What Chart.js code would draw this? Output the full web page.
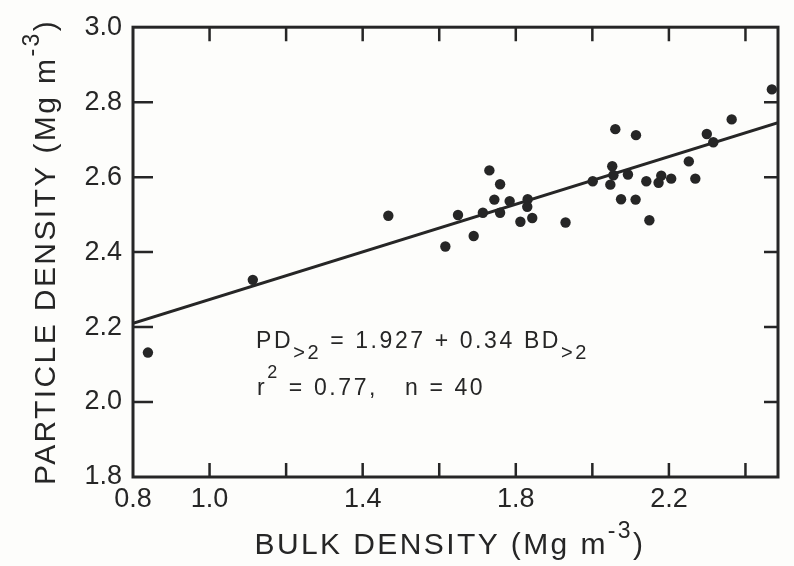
<!DOCTYPE html>
<html>
<head>
<meta charset="utf-8">
<title>Particle density vs bulk density</title>
<script src="https://cdn.jsdelivr.net/npm/chart.js@4.4.1/dist/chart.umd.min.js"></script>
<style>
  html, body { margin: 0; padding: 0; background: #fdfdfb; }
  #wrap { width: 794px; height: 566px; }
</style>
</head>
<body>
<div id="wrap"><canvas id="densityChart" width="794" height="566"></canvas></div>
<script>
// values (Mg m-3)
const bulkDensity = [0.839, 1.113, 1.467, 1.731, 1.759, 1.744, 1.784, 1.831, 1.830, 1.649,
    1.714, 1.759, 1.812, 1.843, 1.930, 1.690, 1.616, 2.001, 2.060, 2.114,
    2.052, 2.055, 2.047, 2.093, 2.141, 2.180, 2.173, 2.206, 2.252, 2.269,
    2.299, 2.316, 2.364, 2.075, 2.113, 2.149, 2.469];
const particleDensity = [2.132, 2.326, 2.497, 2.618, 2.581, 2.540, 2.536, 2.541, 2.521, 2.499,
    2.505, 2.505, 2.481, 2.491, 2.479, 2.443, 2.415, 2.589, 2.728, 2.712,
    2.629, 2.605, 2.580, 2.607, 2.589, 2.604, 2.585, 2.596, 2.642, 2.596,
    2.715, 2.693, 2.754, 2.541, 2.540, 2.485, 2.834];

// regression line as drawn
const fitLineX = [0.8, 2.485];
const fitLineY = [2.21, 2.745];

// axes
const xTickLabels = [0.8, 1.0, 1.4, 1.8, 2.2];
const xTickMarks = [1.0, 1.2, 1.4, 1.6, 1.8, 2.0, 2.2, 2.4];
const yTickLabels = [1.8, 2.0, 2.2, 2.4, 2.6, 2.8, 3.0];
const yTickMarks = [2.0, 2.2, 2.4, 2.6, 2.8];

const ink = '#262626';
const fontFamily = '"Liberation Sans", Arial, sans-serif';

// draw a run of text pieces, each [text, size, dy]
function drawParts(ctx, parts, x, y, measureOnly) {
    let cx = x;
    parts.forEach(p => {
        ctx.font = p[1] + 'px ' + fontFamily;
        if (!measureOnly) ctx.fillText(p[0], cx, y + p[2]);
        cx += ctx.measureText(p[0]).width;
    });
    return cx - x;
}

const framePlugin = {
    id: 'frame',
    afterDraw(chart) {
        const ctx = chart.ctx;
        const a = chart.chartArea;
        const xs = chart.scales.x, ys = chart.scales.y;
        ctx.save();
        ctx.strokeStyle = ink;
        ctx.fillStyle = ink;

        // box
        ctx.lineWidth = 3;
        ctx.strokeRect(a.left, a.top, a.right - a.left, a.bottom - a.top);

        // inner tick marks
        ctx.lineWidth = 2.5;
        ctx.beginPath();
        xTickMarks.forEach(v => {
            const px = xs.getPixelForValue(v);
            ctx.moveTo(px, a.bottom); ctx.lineTo(px, a.bottom - 14);
            ctx.moveTo(px, a.top); ctx.lineTo(px, a.top + 14);
        });
        yTickMarks.forEach(v => {
            const py = ys.getPixelForValue(v);
            ctx.moveTo(a.left, py); ctx.lineTo(a.left + 20, py);
            ctx.moveTo(a.right, py); ctx.lineTo(a.right - 14, py);
        });
        ctx.stroke();

        ctx.textAlign = 'left';
        ctx.textBaseline = 'alphabetic';

        // axis titles
        ctx.letterSpacing = '2.4px';
        const xTitle = [['BULK DENSITY (Mg m', 30, 0], ['-3', 23, -16], [')', 30, 0]];
        const wx = drawParts(ctx, xTitle, 0, 0, true);
        drawParts(ctx, xTitle, 450 - wx / 2, 554);

        const yTitle = [['PARTICLE DENSITY (Mg m', 30, 0], ['-3', 23, -16], [')', 30, 0]];
        const wy = drawParts(ctx, yTitle, 0, 0, true);
        ctx.save();
        ctx.translate(55, 252);
        ctx.rotate(-Math.PI / 2);
        drawParts(ctx, yTitle, -wy / 2, 0);
        ctx.restore();

        // equation
        ctx.letterSpacing = '2.6px';
        ctx.wordSpacing = '5px';
        drawParts(ctx, [['PD', 23, 0], ['>2', 20, 11], [' = 1.927 + 0.34 BD', 23, 0], ['>2', 20, 11]], 256, 348);
        drawParts(ctx, [['r', 23, 0], ['2', 18, -17], [' = 0.77,   n = 40', 23, 0]], 257, 395);
        ctx.restore();
    }
};

const points = bulkDensity.map((x, i) => ({ x: x, y: particleDensity[i] }));
const fitLine = fitLineX.map((x, i) => ({ x: x, y: fitLineY[i] }));

const ctx = document.getElementById('densityChart').getContext('2d');
new Chart(ctx, {
    type: 'scatter',
    data: {
        datasets: [{
            data: points,
            pointRadius: 5.2,
            pointBackgroundColor: ink,
            pointBorderWidth: 0,
            order: 0
        }, {
            type: 'line',
            data: fitLine,
            borderColor: ink,
            borderWidth: 3,
            pointRadius: 0,
            fill: false,
            order: 1
        }]
    },
    options: {
        responsive: false,
        animation: false,
        layout: { padding: { top: 24, right: 16, left: 0, bottom: 0 } },
        plugins: { legend: { display: false }, tooltip: { enabled: false } },
        scales: {
            x: {
                type: 'linear',
                min: 0.8,
                max: 2.485,
                afterBuildTicks: s => { s.ticks = xTickLabels.map(v => ({ value: v })); },
                afterFit: s => { s.height = 89; },
                grid: { display: false, drawTicks: false },
                border: { display: false },
                ticks: {
                    padding: 6,
                    color: ink,
                    font: { family: 'Liberation Sans', size: 27 },
                    maxRotation: 0,
                    autoSkip: false,
                    callback: v => v.toFixed(1)
                }
            },
            y: {
                type: 'linear',
                min: 1.8,
                max: 3.0,
                afterBuildTicks: s => { s.ticks = yTickLabels.map(v => ({ value: v })); },
                afterFit: s => { s.width = 133; },
                grid: { display: false, drawTicks: false },
                border: { display: false },
                ticks: {
                    padding: 11,
                    color: ink,
                    font: { family: 'Liberation Sans', size: 27 },
                    autoSkip: false,
                    callback: v => v.toFixed(1)
                }
            }
        }
    },
    plugins: [framePlugin]
});
</script>
</body>
</html>
